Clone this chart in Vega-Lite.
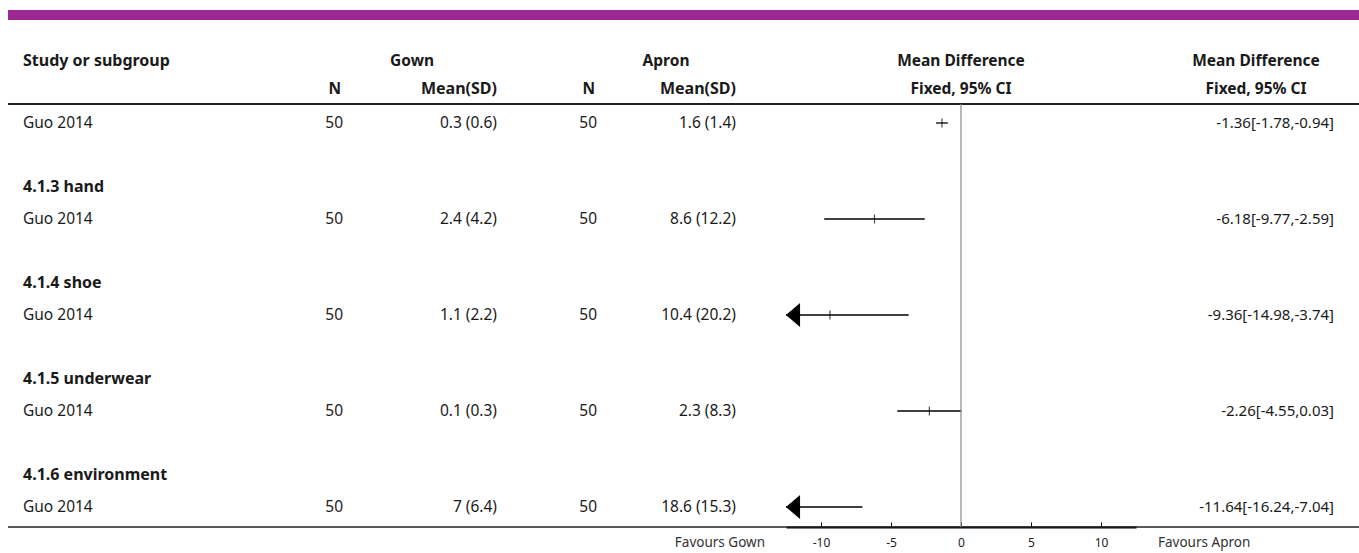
{
  "$schema": "https://vega.github.io/schema/vega-lite/v6.json",
  "width": 1351,
  "height": 527,
  "padding": {"left": 8, "top": 0, "right": 0, "bottom": 26},
  "autosize": {"type": "none"},
  "background": "white",
  "config": {"view": {"stroke": null}},
  "datasets": {
    "studies": [
      {"row": 0, "study": "Guo 2014", "n1": 50, "ms1": "0.3 (0.6)", "n2": 50, "ms2": "1.6 (1.4)", "est": -1.36, "lo": -1.78, "hi": -0.94, "ci": "-1.36[-1.78,-0.94]"},
      {"row": 3, "study": "Guo 2014", "n1": 50, "ms1": "2.4 (4.2)", "n2": 50, "ms2": "8.6 (12.2)", "est": -6.18, "lo": -9.77, "hi": -2.59, "ci": "-6.18[-9.77,-2.59]"},
      {"row": 6, "study": "Guo 2014", "n1": 50, "ms1": "1.1 (2.2)", "n2": 50, "ms2": "10.4 (20.2)", "est": -9.36, "lo": -14.98, "hi": -3.74, "ci": "-9.36[-14.98,-3.74]"},
      {"row": 9, "study": "Guo 2014", "n1": 50, "ms1": "0.1 (0.3)", "n2": 50, "ms2": "2.3 (8.3)", "est": -2.26, "lo": -4.55, "hi": 0.03, "ci": "-2.26[-4.55,0.03]"},
      {"row": 12, "study": "Guo 2014", "n1": 50, "ms1": "7 (6.4)", "n2": 50, "ms2": "18.6 (15.3)", "est": -11.64, "lo": -16.24, "hi": -7.04, "ci": "-11.64[-16.24,-7.04]"}
    ],
    "subgroups": [
      {"row": 2, "label": "4.1.3 hand"},
      {"row": 5, "label": "4.1.4 shoe"},
      {"row": 8, "label": "4.1.5 underwear"},
      {"row": 11, "label": "4.1.6 environment"}
    ],
    "headers": [
      {"row": -1.95, "col": "study", "text": "Study or subgroup"},
      {"row": -1.95, "col": "gown", "text": "Gown"},
      {"row": -1.95, "col": "apron", "text": "Apron"},
      {"row": -1.95, "col": "plot", "text": "Mean Difference"},
      {"row": -1.95, "col": "citext", "text": "Mean Difference"},
      {"row": -1.07, "col": "n1", "text": "N"},
      {"row": -1.07, "col": "ms1", "text": "Mean(SD)"},
      {"row": -1.07, "col": "n2", "text": "N"},
      {"row": -1.07, "col": "ms2", "text": "Mean(SD)"},
      {"row": -1.07, "col": "plot", "text": "Fixed, 95% CI"},
      {"row": -1.07, "col": "citext", "text": "Fixed, 95% CI"}
    ],
    "footer": [
      {"row": 13.12, "side": "left", "text": "Favours Gown"},
      {"row": 13.12, "side": "right", "text": "Favours Apron"}
    ],
    "one": [{"k": 1}]
  },
  "layer": [
    {
      "encoding": {
        "y": {"field": "row", "type": "quantitative", "scale": {"domain": [0, 12], "range": [123, 507], "nice": false, "zero": false}, "axis": null}
      },
      "layer": [
        {"data": {"name": "studies"}, "mark": {"type": "rule", "color": "#000000", "strokeWidth": 1.3},
         "encoding": {
           "x": {"field": "lo", "type": "quantitative",
                 "scale": {"domain": [-12.5, 12.5], "range": [778, 1128], "clamp": true, "nice": false, "zero": false},
                 "axis": {"values": [-10, -5, 0, 5, 10], "labelExpr": "'' + datum.value", "title": null, "grid": false, "domainColor": "#000000", "domainWidth": 2, "tickColor": "#000000", "tickSize": -5, "tickWidth": 1, "labelPadding": 15, "labelFont": "Noto Sans", "labelFontSize": 12, "labelColor": "#222222"}},
           "x2": {"field": "hi"}
         }},
        {"data": {"name": "studies"}, "mark": {"type": "tick", "orient": "vertical", "color": "#000000", "thickness": 1.2, "size": 9},
         "encoding": {"x": {"field": "est", "type": "quantitative"}}},
        {"data": {"name": "studies"}, "transform": [{"filter": "datum.lo < -12.5"}],
         "mark": {"type": "point", "shape": "M 0 0 L 1.17 -1 L 1.17 1 Z", "filled": true, "color": "#000000", "opacity": 1, "size": 576, "strokeWidth": 0},
         "encoding": {"x": {"datum": -12.5, "type": "quantitative"}}},
        {"data": {"name": "studies"}, "mark": {"type": "text", "font": "Noto Sans", "fontSize": 15.5, "color": "#1a1a1a", "align": "left", "baseline": "middle", "x": 15},
         "encoding": {"text": {"field": "study"}}},
        {"data": {"name": "studies"}, "mark": {"type": "text", "font": "Noto Sans", "fontSize": 15.5, "color": "#1a1a1a", "align": "right", "baseline": "middle", "x": 335},
         "encoding": {"text": {"field": "n1"}}},
        {"data": {"name": "studies"}, "mark": {"type": "text", "font": "Noto Sans", "fontSize": 15.5, "color": "#1a1a1a", "align": "right", "baseline": "middle", "x": 489},
         "encoding": {"text": {"field": "ms1"}}},
        {"data": {"name": "studies"}, "mark": {"type": "text", "font": "Noto Sans", "fontSize": 15.5, "color": "#1a1a1a", "align": "right", "baseline": "middle", "x": 589},
         "encoding": {"text": {"field": "n2"}}},
        {"data": {"name": "studies"}, "mark": {"type": "text", "font": "Noto Sans", "fontSize": 15.5, "color": "#1a1a1a", "align": "right", "baseline": "middle", "x": 728},
         "encoding": {"text": {"field": "ms2"}}},
        {"data": {"name": "studies"}, "mark": {"type": "text", "font": "Noto Sans", "fontSize": 15, "color": "#1a1a1a", "align": "right", "baseline": "middle", "x": 1326},
         "encoding": {"text": {"field": "ci"}}},
        {"data": {"name": "subgroups"}, "mark": {"type": "text", "font": "Noto Sans", "fontSize": 16, "fontWeight": "bold", "color": "#1a1a1a", "align": "left", "baseline": "middle", "x": 15},
         "encoding": {"text": {"field": "label"}}},
        {"data": {"name": "headers"}, "transform": [{"filter": "datum.col == 'study'"}],
         "mark": {"type": "text", "font": "Noto Sans", "fontSize": 16, "fontWeight": "bold", "color": "#1a1a1a", "align": "left", "baseline": "middle", "x": 15},
         "encoding": {"text": {"field": "text"}}},
        {"data": {"name": "headers"}, "transform": [{"filter": "datum.col == 'gown'"}],
         "mark": {"type": "text", "font": "Noto Sans", "fontSize": 15.5, "fontWeight": "bold", "color": "#1a1a1a", "align": "center", "baseline": "middle", "x": 404},
         "encoding": {"text": {"field": "text"}}},
        {"data": {"name": "headers"}, "transform": [{"filter": "datum.col == 'apron'"}],
         "mark": {"type": "text", "font": "Noto Sans", "fontSize": 15.5, "fontWeight": "bold", "color": "#1a1a1a", "align": "center", "baseline": "middle", "x": 658},
         "encoding": {"text": {"field": "text"}}},
        {"data": {"name": "headers"}, "transform": [{"filter": "datum.col == 'plot'"}],
         "mark": {"type": "text", "font": "Noto Sans", "fontSize": 15.5, "fontWeight": "bold", "color": "#1a1a1a", "align": "center", "baseline": "middle", "x": 953},
         "encoding": {"text": {"field": "text"}}},
        {"data": {"name": "headers"}, "transform": [{"filter": "datum.col == 'citext'"}],
         "mark": {"type": "text", "font": "Noto Sans", "fontSize": 15.5, "fontWeight": "bold", "color": "#1a1a1a", "align": "center", "baseline": "middle", "x": 1248},
         "encoding": {"text": {"field": "text"}}},
        {"data": {"name": "headers"}, "transform": [{"filter": "datum.col == 'n1'"}],
         "mark": {"type": "text", "font": "Noto Sans", "fontSize": 15.5, "fontWeight": "bold", "color": "#1a1a1a", "align": "right", "baseline": "middle", "x": 333},
         "encoding": {"text": {"field": "text"}}},
        {"data": {"name": "headers"}, "transform": [{"filter": "datum.col == 'ms1'"}],
         "mark": {"type": "text", "font": "Noto Sans", "fontSize": 16, "fontWeight": "bold", "color": "#1a1a1a", "align": "right", "baseline": "middle", "x": 489},
         "encoding": {"text": {"field": "text"}}},
        {"data": {"name": "headers"}, "transform": [{"filter": "datum.col == 'n2'"}],
         "mark": {"type": "text", "font": "Noto Sans", "fontSize": 15.5, "fontWeight": "bold", "color": "#1a1a1a", "align": "right", "baseline": "middle", "x": 587},
         "encoding": {"text": {"field": "text"}}},
        {"data": {"name": "headers"}, "transform": [{"filter": "datum.col == 'ms2'"}],
         "mark": {"type": "text", "font": "Noto Sans", "fontSize": 16, "fontWeight": "bold", "color": "#1a1a1a", "align": "right", "baseline": "middle", "x": 728},
         "encoding": {"text": {"field": "text"}}},
        {"data": {"name": "footer"}, "transform": [{"filter": "datum.side == 'left'"}],
         "mark": {"type": "text", "font": "Noto Sans", "fontSize": 13.5, "color": "#333333", "align": "right", "baseline": "middle", "x": 757},
         "encoding": {"text": {"field": "text"}}},
        {"data": {"name": "footer"}, "transform": [{"filter": "datum.side == 'right'"}],
         "mark": {"type": "text", "font": "Noto Sans", "fontSize": 13.5, "color": "#333333", "align": "left", "baseline": "middle", "x": 1150},
         "encoding": {"text": {"field": "text"}}}
      ]
    },
    {"data": {"name": "one"}, "mark": {"type": "rule", "color": "#9d2793", "strokeWidth": 10}, "encoding": {"y": {"datum": -3.375}}},
    {"data": {"name": "one"}, "mark": {"type": "rule", "color": "#222222", "strokeWidth": 2}, "encoding": {"y": {"datum": -0.594}}},
    {"data": {"name": "one"}, "mark": {"type": "rule", "color": "#222222", "strokeWidth": 1.5}, "encoding": {"y": {"datum": 12.625}}},
    {"data": {"name": "one"}, "mark": {"type": "rule", "color": "#8a8a8a", "strokeWidth": 1.2},
     "encoding": {"x": {"datum": 0, "type": "quantitative"}, "y": {"datum": -0.594}, "y2": {"datum": 12.625}}}
  ]
}
